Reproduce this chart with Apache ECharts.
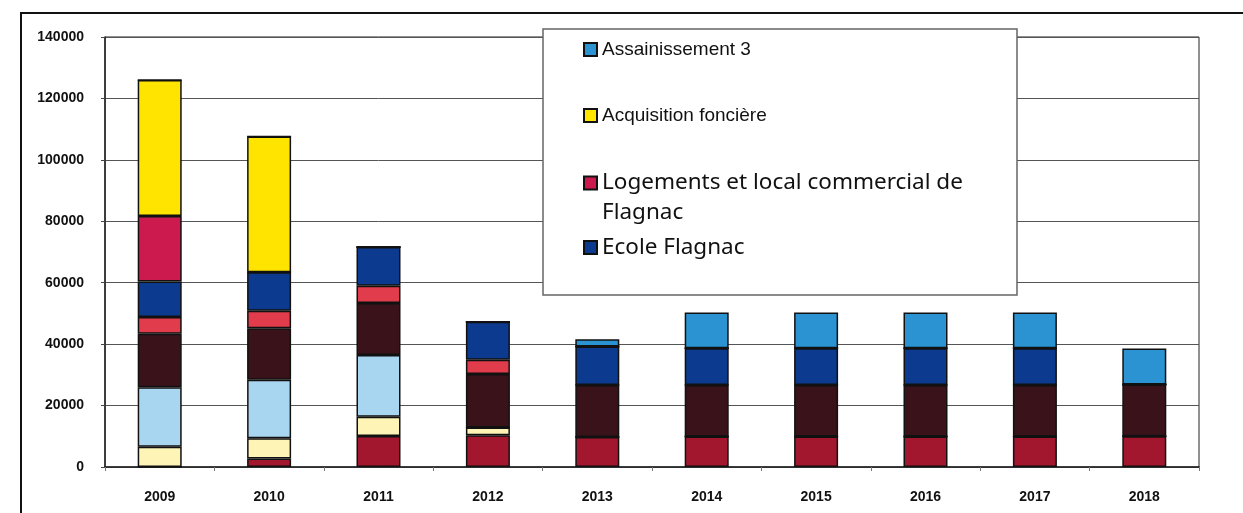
<!DOCTYPE html>
<html>
	<head>
		<meta charset="utf-8">
		<title>Flagnac</title>
		<script src="https://cdn.jsdelivr.net/npm/echarts@6/dist/echarts.min.js"></script>
		<style>
			html, body { margin: 0; padding: 0; background: #fff; }
		</style>
	</head>
	<body>
		<div id="main" style="width: 1243px;height:513px;"></div>
		<script type="text/javascript">
			// années
			var years = ['2009', '2010', '2011', '2012', '2013', '2014', '2015', '2016', '2017', '2018'];
			var yTicks = [0, 20000, 40000, 60000, 80000, 100000, 120000, 140000];

			// segments, du bas vers le haut
			var serieRouge = [0, 2800, 10100, 10300, 9800, 9900, 9900, 9900, 9900, 10000];
			var serieCreme = [6600, 6600, 6300, 2600, 0, 0, 0, 0, 0, 0];
			var serieBleuClair = [19400, 19000, 20100, 0, 0, 0, 0, 0, 0, 0];
			var serieBordeaux = [17400, 16800, 16900, 17400, 16900, 16800, 16800, 16800, 16800, 16900];
			var serieRose = [5400, 5700, 5600, 4600, 0, 0, 0, 0, 0, 0];
			var ecoleFlagnac = [11600, 12500, 12600, 12400, 12500, 12000, 12000, 12000, 12000, 0];
			var logements = [21300, 0, 0, 0, 0, 0, 0, 0, 0, 0];
			var acquisition = [44300, 44200, 0, 0, 0, 0, 0, 0, 0, 0];
			var assainissement = [0, 0, 0, 0, 2400, 11600, 11600, 11600, 11600, 11700];

			var myChart = echarts.init(document.getElementById('main'));

			function barSerie(name, data, color) {
				return {
					name: name,
					type: 'bar',
					stack: 'total',
					barWidth: 44,
					data: data,
					itemStyle: {
						color: color,
						borderColor: '#111',
						borderWidth: 1.5
					}
				};
			}

			var legendArial = { fontFamily: 'Liberation Sans', fontSize: 19, color: '#111' };
			var legendCalibri = { fontFamily: 'Noto Sans', fontSize: 22.5, color: '#111' };

			var option = {
				animation: false,
				backgroundColor: '#fff',
				grid: {
					left: 105,
					right: 44,
					top: 37,
					bottom: 46,
					show: true,
					borderColor: '#222',
					borderWidth: 1
				},
				xAxis: {
					type: 'category',
					data: years,
					axisLine: { lineStyle: { color: '#222', width: 1.5 } },
					axisTick: { show: true, length: 4, lineStyle: { color: '#777' } },
					axisLabel: {
						margin: 23,
						fontFamily: 'Liberation Sans',
						fontWeight: 'bold',
						fontSize: 14,
						color: '#111'
					}
				},
				yAxis: {
					type: 'value',
					min: yTicks[0],
					max: yTicks[yTicks.length - 1],
					interval: 20000,
					axisLine: { show: true, lineStyle: { color: '#222', width: 1.5 } },
					axisTick: { show: true, length: 4, lineStyle: { color: '#444' } },
					splitLine: { lineStyle: { color: '#555', width: 1 } },
					axisLabel: {
						margin: 21,
						fontFamily: 'Liberation Sans',
						fontWeight: 'bold',
						fontSize: 14,
						color: '#111',
						formatter: function (v) { return String(v); }
					}
				},
				legend: [{
					z: 6,
					left: 583,
					top: 40,
					padding: 0,
					icon: 'rect',
					itemWidth: 13,
					itemHeight: 13,
					data: ['Assainissement 3'],
					textStyle: legendArial
				}, {
					z: 6,
					left: 583,
					top: 106,
					padding: 0,
					icon: 'rect',
					itemWidth: 13,
					itemHeight: 13,
					data: ['Acquisition foncière'],
					textStyle: legendArial
				}, {
					z: 6,
					left: 583,
					top: 138,
					padding: 0,
					icon: 'rect',
					itemWidth: 13,
					itemHeight: 13,
					data: ['Logements et local commercial de Flagnac'],
					formatter: function () {
						// ligne vide en tête pour caler le carré sur la 1re ligne
						return '\nLogements et local commercial de\nFlagnac';
					},
					textStyle: {
						fontFamily: 'Noto Sans',
						fontSize: 22.5,
						color: '#111',
						lineHeight: 30
					}
				}, {
					z: 6,
					left: 583,
					top: 236,
					padding: 0,
					icon: 'rect',
					itemWidth: 13,
					itemHeight: 13,
					data: ['Ecole Flagnac'],
					textStyle: legendCalibri
				}],
				graphic: [{
					type: 'rect',
					z: 3,
					shape: { x: 543, y: 29, width: 474, height: 266 },
					style: { fill: '#fff', stroke: '#666', lineWidth: 1.5 }
				}, {
					type: 'rect',
					z: 3,
					shape: { x: 21, y: 13, width: 1300, height: 600 },
					style: { fill: 'none', stroke: '#111', lineWidth: 2 }
				}],
				series: [
					barSerie('Travaux 1', serieRouge, '#a3172e'),
					barSerie('Travaux 2', serieCreme, '#fdf4b6'),
					barSerie('Travaux 3', serieBleuClair, '#a8d5f0'),
					barSerie('Travaux 4', serieBordeaux, '#3a121a'),
					barSerie('Travaux 5', serieRose, '#e13c4c'),
					barSerie('Ecole Flagnac', ecoleFlagnac, '#0c3a8f'),
					barSerie('Logements et local commercial de Flagnac', logements, '#cd1a4e'),
					barSerie('Acquisition foncière', acquisition, '#ffe400'),
					barSerie('Assainissement 3', assainissement, '#2b93d2')
				]
			};

			myChart.setOption(option);
		</script>
	</body>
</html>
